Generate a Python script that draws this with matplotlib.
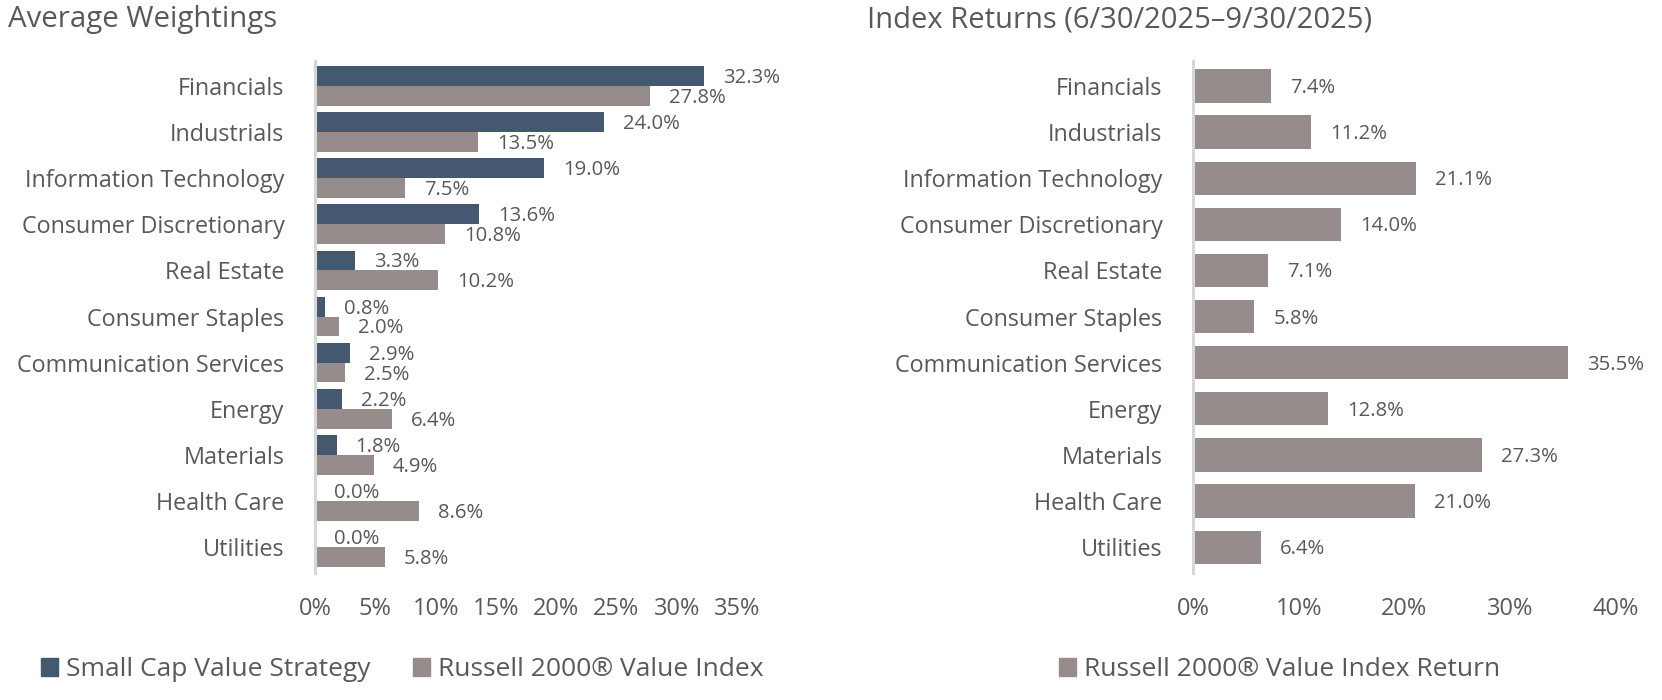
import numpy as np
import matplotlib
matplotlib.use("Agg")
import matplotlib.pyplot as plt
from matplotlib.patches import Patch

plt.rcParams['font.family'] = ['Open Sans', 'DejaVu Sans']

sectors = ["Financials", "Industrials", "Information Technology",
           "Consumer Discretionary", "Real Estate", "Consumer Staples",
           "Communication Services", "Energy", "Materials", "Health Care",
           "Utilities"]
strategy = [32.3, 24.0, 19.0, 13.6, 3.3, 0.8, 2.9, 2.2, 1.8, 0.0, 0.0]
russell = [27.8, 13.5, 7.5, 10.8, 10.2, 2.0, 2.5, 6.4, 4.9, 8.6, 5.8]
returns = [7.4, 11.2, 21.1, 14.0, 7.1, 5.8, 35.5, 12.8, 27.3, 21.0, 6.4]

left_ticks = [0, 5, 10, 15, 20, 25, 30, 35]
right_ticks = [0, 10, 20, 30, 40]

DARK = "#44596f"
GRAY = "#968c8b"
TXT = "#595959"
W, H = 1662, 700

fig = plt.figure(figsize=(W / 100, H / 100), dpi=100)

def px_axes(x0, x1, y0, y1):
    return fig.add_axes([x0 / W, 1 - y1 / H, (x1 - x0) / W, (y1 - y0) / H])

def style(ax, xmax, ticks):
    ax.set_xlim(0, xmax)
    ax.set_ylim(10.56, -0.54)
    for s in ["top", "right", "bottom"]:
        ax.spines[s].set_visible(False)
    ax.spines["left"].set_color("#d6d6d6")
    ax.spines["left"].set_linewidth(2.2)
    ax.set_yticks(range(len(sectors)))
    ax.set_yticklabels(sectors)
    ax.set_xticks(ticks)
    ax.set_xticklabels([f"{t}%" for t in ticks])
    ax.tick_params(axis="y", length=0, pad=22, labelsize=16.8, labelcolor=TXT)
    ax.tick_params(axis="x", length=0, pad=17, labelsize=17, labelcolor=TXT)

def label_bars(ax, ys, vals):
    for y, v in zip(ys, vals):
        ax.annotate(f"{v:.1f}%", (v, y), xytext=(19, -2), textcoords="offset pixels",
                    va="center", ha="left", fontsize=14.6, color=TXT)

y = np.arange(len(sectors))
h = 0.43

# left: average weightings
ax1 = px_axes(315, 737, 61, 573)
ax1.barh(y - h / 2, strategy, height=h, color=DARK)
ax1.barh(y + h / 2, russell, height=h, color=GRAY)
label_bars(ax1, y - h / 2, strategy)
label_bars(ax1, y + h / 2, russell)
style(ax1, 35, left_ticks)

# right: index returns
ax2 = px_axes(1193, 1616, 61, 573)
ax2.barh(y, returns, height=0.72, color=GRAY)
label_bars(ax2, y, returns)
style(ax2, 40, right_ticks)

fig.text(8 / W, 1 - 20 / H, "Average Weightings", fontsize=21.2, color=TXT,
         ha="left", va="center")
fig.text(867 / W, 1 - 20 / H, "Index Returns (6/30/2025\u20139/30/2025)", fontsize=21,
         color=TXT, ha="left", va="center")

leg_kw = dict(frameon=False, loc="center left", borderpad=0, borderaxespad=0,
              handlelength=0.65, handleheight=0.65, handletextpad=0.3,
              fontsize=19, labelcolor=TXT)
fig.legend(handles=[Patch(color=DARK, label="Small Cap Value Strategy"),
                    Patch(color=GRAY, label="Russell 2000\u00ae Value Index")],
           ncol=2, columnspacing=1.6, bbox_to_anchor=(41 / W, 1 - 670 / H), **leg_kw)
fig.legend(handles=[Patch(color=GRAY, label="Russell 2000\u00ae Value Index Return")],
           bbox_to_anchor=(1059 / W, 1 - 670 / H), **leg_kw)

fig.savefig("out.png", dpi=100)
